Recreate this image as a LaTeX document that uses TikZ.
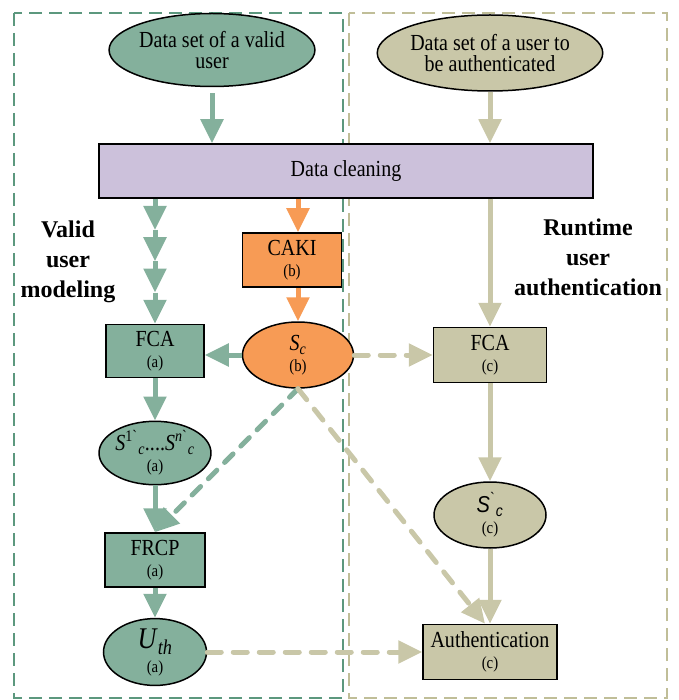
\documentclass[tikz,border=0pt]{standalone}
\usepackage{fontspec}
\setmainfont{Liberation Serif}
\setsansfont{Liberation Sans}
\newfontfamily\condfont{Liberation Serif}[FakeStretch=0.87]
\newfontfamily\condsans{Liberation Sans}[FakeStretch=0.87]
\usetikzlibrary{%
  arrows.meta,%
  calc,%
  shapes.geometric%
}
\definecolor{mgreen}{RGB}{132,176,156}
\definecolor{dgreen}{RGB}{92,152,126}
\definecolor{khaki}{RGB}{201,199,168}
\definecolor{dkhaki}{RGB}{192,190,152}
\definecolor{morange}{RGB}{247,155,85}
\definecolor{mpurple}{RGB}{204,193,219}
\newcommand{\smalltag}[1]{{\fontsize{17}{18}\selectfont #1}}
\tikzset{>={Triangle[width=22pt,length=24pt]},%
  box/.style={draw=black,line width=1.5pt,inner sep=0pt,align=center,
    font=\condfont\fontsize{23}{21}\selectfont},
  oval/.style={box,ellipse},
  flow/.style={->,line width=5pt},
  gdash/.style={flow,mgreen,line cap=round,dash pattern=on 12pt off 11pt},
  kdash/.style={flow,khaki,line cap=round,dash pattern=on 14pt off 12pt},
  title/.style={align=center,font=\fontsize{24}{30}\selectfont\bfseries},
  frame/.style={line width=1.8pt,dash pattern=on 13pt off 7pt}}

\begin{document}
\begin{tikzpicture}[x=1pt,y=-1pt]
  \useasboundingbox (0,0) rectangle (678,700);
  \draw[frame,dgreen] (14,13) rectangle (343,698);
  \draw[frame,dkhaki] (349,13) rectangle (667,698);
  \node[oval,fill=mgreen,minimum width=163pt,minimum height=73pt] (valid) at (212,50)
    {Data set of a valid\\user};
  \node[oval,fill=khaki,minimum width=171pt,minimum height=76pt] (test) at (490,53)
    {Data set of a user to\\be authenticated};
  \node[box,fill=mpurple,minimum width=494pt,minimum height=54pt] (clean) at (346,171)
    {Data cleaning};
  \node[box,fill=morange,minimum width=99pt,minimum height=54pt] (caki) at (292,260)
    {CAKI\\\smalltag{(b)}};
  \node[oval,fill=morange,minimum width=111pt,minimum height=66pt] (sc) at (298,355)
    {\textit{S}\textsubscript{\textit{c}}\\\smalltag{(b)}};
  \node[box,fill=mgreen,minimum width=98pt,minimum height=53pt] (fcaa) at (155,351)
    {FCA\\\smalltag{(a)}};
  \node[oval,fill=mgreen,minimum width=106pt,minimum height=57pt] (scn) at (155,453)
    {\textit{S}\textsuperscript{1\textasciigrave}\textsubscript{\textit{c}}....\textit{S}\textsuperscript{\textit{n}\textasciigrave}\textsubscript{\textit{c}}\\\smalltag{(a)}};
  \node[box,fill=mgreen,minimum width=100pt,minimum height=54pt] (frcp) at (155,560)
    {FRCP\\\smalltag{(a)}};
  \node[oval,fill=mgreen,minimum width=103pt,minimum height=61pt] (uth) at (155,652)
    {{\fontsize{30}{30}\selectfont\textit{U}\textsubscript{\textit{th}}}\\[3pt]\smalltag{(a)}};
  \node[box,fill=khaki,minimum width=113pt,minimum height=55pt] (fcac) at (490,355)
    {FCA\\\smalltag{(c)}};
  \node[oval,fill=khaki,minimum width=112pt,minimum height=66pt] (scp) at (490,515)
    {{\condsans\itshape S}\textsuperscript{\textasciigrave}\textsubscript{\condsans\itshape c}\\\smalltag{(c)}};
  \node[box,fill=khaki,minimum width=134pt,minimum height=55pt] (auth) at (490,652)
    {Authentication\\\smalltag{(c)}};
  \node[title] (valtitle) at (68,262) {Valid\\user\\modeling};
  \node[title] (runtitle) at (588,257) {Runtime\\user\\authentication};
  \draw[flow,mgreen,shorten <=6pt] (valid.south) -- (valid.south |- clean.north);
  \draw[flow,khaki] (test.south) -- (test.south |- clean.north);
  \draw[flow,khaki] (clean.south -| fcac.north) -- (fcac.north);
  \draw[flow,morange] (clean.south -| sc.north) -- (caki.north -| sc.north);
  \draw[flow,morange] (caki.south -| sc.north) -- (sc.north);
  \foreach \a/\b in {0/0.25,0.25/0.5,0.5/0.75,0.75/1}
    {\draw[flow,mgreen] ($(clean.south -| fcaa.north)!\a!(fcaa.north)$) --
      ($(clean.south -| fcaa.north)!\b!(fcaa.north)$);}
  \draw[flow,mgreen] (sc.west) -- (sc.west -| fcaa.east);
  \draw[flow,mgreen] (fcaa.south) -- (scn.north);
  \draw[flow,mgreen] (scn.south) -- (frcp.north);
  \draw[flow,mgreen] (frcp.south) -- (uth.north);
  \draw[flow,khaki] (fcac.south) -- (scp.north);
  \draw[flow,khaki] (scp.south) -- (auth.north);
  \draw[gdash] (sc.south) -- (frcp.north);
  \draw[kdash] (sc.south) -- (auth.100);
  \draw[kdash] (sc.east) -- (fcac.west);
  \draw[kdash] (uth.east) -- (auth.west);
\end{tikzpicture}
\end{document}
